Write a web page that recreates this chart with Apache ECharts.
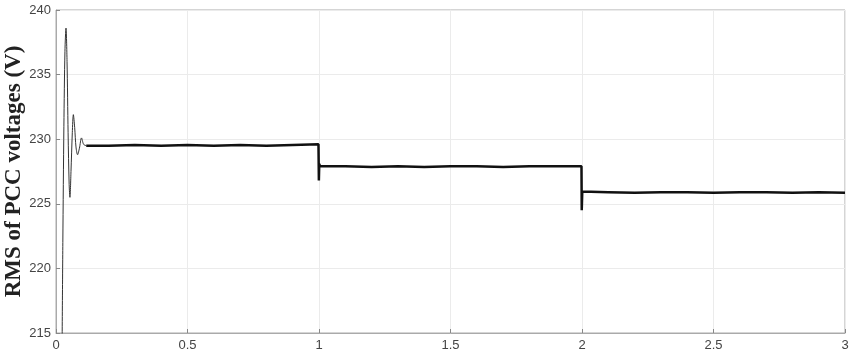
<!DOCTYPE html>
<html>
<head>
<meta charset="utf-8">
<script src="https://cdn.jsdelivr.net/npm/echarts@6/dist/echarts.min.js"></script>
<style>html,body{margin:0;padding:0;background:#fff}#c{width:851px;height:356px}</style>
</head>
<body>
<div id="c"></div>
<script>
// Start-up transient (time s, RMS voltage V)
var transientT = [0.0225, 0.026, 0.030, 0.034, 0.038, 0.042, 0.046, 0.050, 0.053, 0.057, 0.062, 0.066, 0.071, 0.076, 0.082, 0.089, 0.097, 0.105, 0.115];
var transientV = [212.0, 222.0, 231.0, 236.8, 238.6, 236.0, 230.5, 226.5, 225.5, 227.5, 230.5, 231.9, 230.9, 229.4, 228.8, 229.3, 230.1, 229.6, 229.5];
// Steady-state sections with load steps at 1 s and 2 s
var steadyT = [0.115, 0.2, 0.3, 0.4, 0.5, 0.6, 0.7, 0.8, 0.9, 0.998, 0.9995, 1.001, 1.004, 1.1, 1.2, 1.3, 1.4, 1.5, 1.6, 1.7, 1.8, 1.9, 1.998, 1.999, 2.001, 2.004, 2.1, 2.2, 2.3, 2.4, 2.5, 2.6, 2.7, 2.8, 2.9, 3.0];
var steadyV = [229.5, 229.5, 229.55, 229.5, 229.55, 229.5, 229.55, 229.5, 229.55, 229.6, 226.8, 228.1, 227.9, 227.9, 227.85, 227.9, 227.85, 227.9, 227.9, 227.85, 227.9, 227.9, 227.9, 224.5, 225.95, 225.9, 225.9, 225.85, 225.9, 225.9, 225.85, 225.9, 225.9, 225.85, 225.9, 225.85];
var yTicks = [215, 220, 225, 230, 235, 240];
var xTicks = [0, 0.5, 1, 1.5, 2, 2.5, 3];
var yLabel = 'RMS of PCC voltages (V)';

function pairs(t, v) { return t.map(function (x, i) { return [x, v[i]]; }); }

var chart = echarts.init(document.getElementById('c'));
chart.setOption({
  animation: false,
  grid: { left: 56, right: 6, top: 10, bottom: 23, show: true, borderColor: '#aaaaaa', borderWidth: 1,
    containLabel: false, outerBoundsMode: 'none' },
  xAxis: {
    type: 'value', min: xTicks[0], max: xTicks[xTicks.length - 1], interval: 0.5,
    axisLine: { show: true, lineStyle: { color: '#aaaaaa' } },
    axisTick: { show: true, inside: true, length: 4, lineStyle: { color: '#888' } },
    splitLine: { show: true, lineStyle: { color: '#ebebeb' } },
    axisLabel: { color: '#444', fontFamily: 'Liberation Sans, Arial', fontSize: 13, margin: 6,
      formatter: function (v) { return String(v); } }
  },
  yAxis: {
    type: 'value', min: yTicks[0], max: yTicks[yTicks.length - 1], interval: 5,
    name: yLabel, nameLocation: 'middle', nameGap: 30, nameMoveOverlap: false,
    nameTextStyle: { fontFamily: 'Liberation Serif, Times New Roman', fontWeight: 'bold', fontSize: 23, color: '#222' },
    axisLine: { show: true, lineStyle: { color: '#aaaaaa' } },
    axisTick: { show: true, inside: true, length: 4, lineStyle: { color: '#888' } },
    splitLine: { show: true, lineStyle: { color: '#ebebeb' } },
    axisLabel: { color: '#444', fontFamily: 'Liberation Sans, Arial', fontSize: 13, margin: 5 }
  },
  series: [
    { type: 'line', data: pairs(transientT, transientV), showSymbol: false, smooth: 0.3, clip: true,
      lineStyle: { color: '#333', width: 1 } },
    { type: 'line', data: pairs(steadyT, steadyV), showSymbol: false, clip: true,
      lineStyle: { color: '#111', width: 2.5 } }
  ]
});
</script>
</body>
</html>
